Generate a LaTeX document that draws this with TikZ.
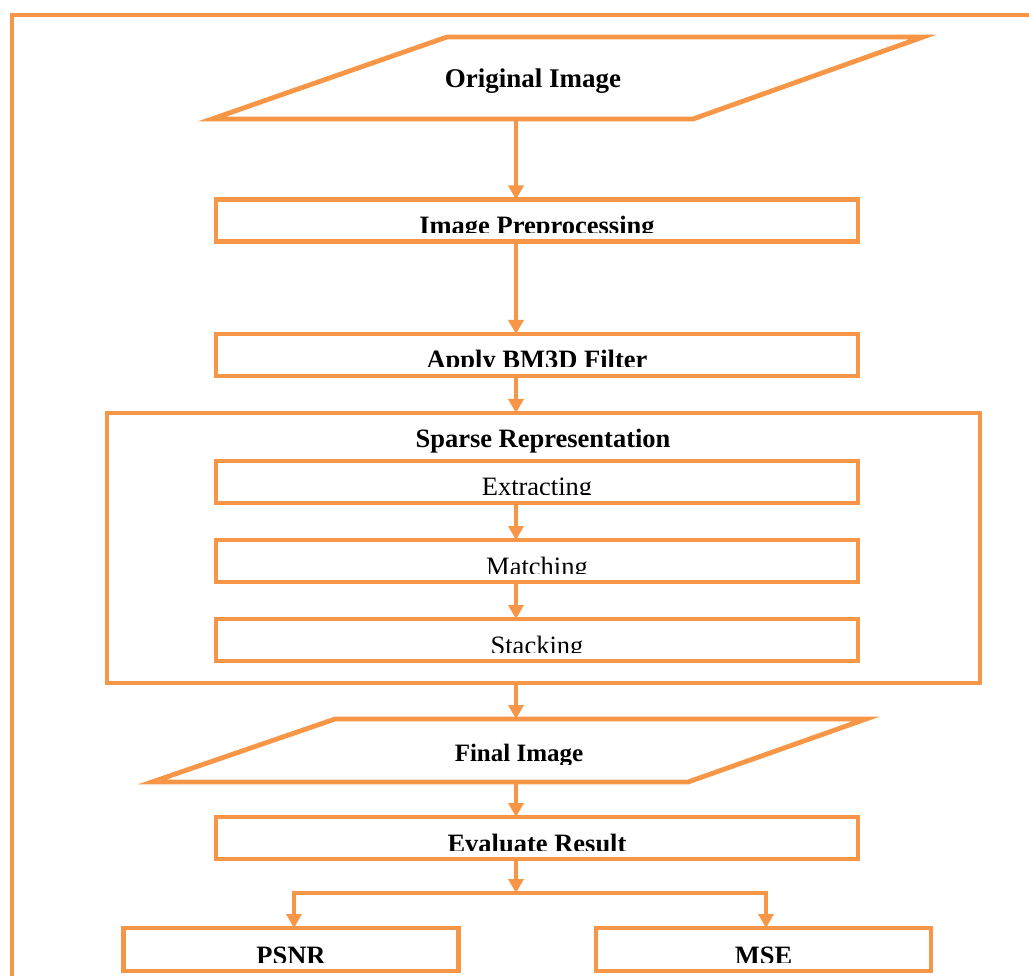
\documentclass[tikz,border=0pt]{standalone}
\usepackage{fontspec}
\setmainfont{Liberation Serif}
\usetikzlibrary{arrows.meta}
\definecolor{accent}{HTML}{F79646}

\tikzset{
  flow/.style={draw=accent, line width=4.8pt},
  stepbox/.style={flow, rectangle, inner sep=0pt, outer sep=0pt,
    minimum width=642pt, minimum height=42pt},
  resultbox/.style={flow, rectangle, inner sep=0pt, outer sep=0pt,
    minimum width=335pt, minimum height=43pt},
  ioarea/.style={rectangle, inner sep=0pt, outer sep=0pt},
  arr/.style={draw=accent, line width=4.5pt, -{Triangle[width=15pt,length=14pt]}},
  lbl/.style={inner sep=0pt, font=\fontsize{26.5}{30}\selectfont\bfseries},
  sublbl/.style={inner sep=0pt, font=\fontsize{26.5}{30}\selectfont},
}

% label set on a box, its lower part hidden below a clip line
\newcommand\boxlabel[4]{% #1 name, #2 box, #3 style, #4 text
  \begin{scope}
    \clip ([yshift=9pt]#2.south west) rectangle ([yshift=20pt]#2.north east);
    \node[#3, anchor=base] (#1) at ([yshift=7pt]#2.south) {#4};
  \end{scope}}

\begin{document}
\begin{tikzpicture}[x=1pt, y=-1pt]
\useasboundingbox (0,0) rectangle (1029,976);

% outer frame
\draw[flow] (12,15) rectangle (1050,1000);

% vertical spine of the flow
\coordinate (spine) at (516,0);

% input parallelogram
\node[ioarea, minimum width=711pt, minimum height=82pt] (orig) at (567.5,78) {};
\draw[flow, line join=miter] (orig.south west) -- ([xshift=481pt]orig.south west)
  -- (orig.north east) -- ([xshift=-476pt]orig.north east) -- cycle;
\node[lbl, font=\fontsize{27}{30}\selectfont\bfseries, anchor=base] (origtxt) at (533,88) {Original Image};

% processing steps
\node[stepbox] (pre) at (537,220.5) {};
\boxlabel{pretxt}{pre}{lbl}{Image Preprocessing}

\node[stepbox] (bm3d) at (537,355) {};
\boxlabel{bm3dtxt}{bm3d}{lbl}{Apply BM3D Filter}

% sparse representation group
\node[flow, rectangle, inner sep=0pt, outer sep=0pt,
      minimum width=873pt, minimum height=270pt] (sparse) at (543.5,548) {};
\node[lbl, anchor=base] (sparsetxt) at (543,448) {Sparse Representation};

\node[stepbox] (extr) at (537,482) {};
\boxlabel{extrtxt}{extr}{sublbl}{Extracting}

\node[stepbox] (match) at (537,561) {};
\boxlabel{matchtxt}{match}{sublbl}{Matching}

\node[stepbox] (stack) at (537,640) {};
\boxlabel{stacktxt}{stack}{sublbl}{Stacking}

% output parallelogram
\node[ioarea, minimum width=714pt, minimum height=63pt] (final) at (509,750.5) {};
\draw[flow, line join=miter] (final.south west) -- ([xshift=536pt]final.south west)
  -- (final.north east) -- ([xshift=-531pt]final.north east) -- cycle;
\begin{scope}
  \clip (140,700) rectangle (880,764);
  \node[lbl, font=\fontsize{25}{30}\selectfont\bfseries, anchor=base] (finaltxt) at (519,761) {Final Image};
\end{scope}

\node[stepbox] (eval) at (537,838) {};
\boxlabel{evaltxt}{eval}{lbl}{Evaluate Result}

% metrics
\node[resultbox] (psnr) at (291,949.5) {};
\boxlabel{psnrtxt}{psnr}{lbl}{PSNR}

\node[resultbox] (mse) at (763.5,949.5) {};
\boxlabel{msetxt}{mse}{lbl}{MSE}

% connectors
\draw[arr] (orig.south -| spine) -- (pre.north -| spine);
\draw[arr] (pre.south -| spine) -- (bm3d.north -| spine);
\draw[arr] (bm3d.south -| spine) -- (sparse.north -| spine);
\draw[arr] (extr.south -| spine) -- (match.north -| spine);
\draw[arr] (match.south -| spine) -- (stack.north -| spine);
\draw[arr] (sparse.south -| spine) -- (final.north -| spine);
\draw[arr] (final.south -| spine) -- (eval.north -| spine);

\coordinate (fork) at (516,893);
\draw[arr] (eval.south -| spine) -- (fork);
\draw[arr] (fork) -| ([xshift=3pt]psnr.north);
\draw[arr] (fork) -| ([xshift=2.5pt]mse.north);
\end{tikzpicture}
\end{document}
